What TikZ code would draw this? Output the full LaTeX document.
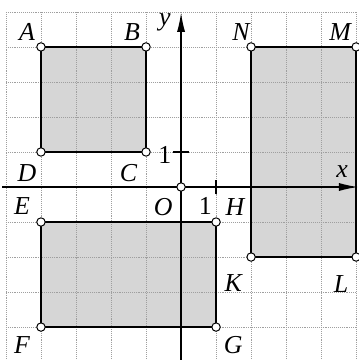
\documentclass[tikz,border=0pt]{standalone}
\usepackage{fontspec}
\setmainfont{Liberation Serif}
\usetikzlibrary{arrows.meta}
\begin{document}
\begin{tikzpicture}[
  gridline/.style={gray!75, densely dotted, line width=0.55pt},
  shade/.style={fill=gray!32},
  edge/.style={line width=1.5pt, black},
  axis/.style={line width=1.1pt, -{Latex[length=5.5mm,width=2.3mm]}},
  pt/.style={circle, draw=black, fill=white, line width=0.8pt, inner sep=0pt, minimum size=2.4mm},
  lab/.style={font=\fontsize{21}{25}\selectfont\itshape, inner sep=0pt},
  num/.style={font=\fontsize{21}{25}\selectfont, inner sep=0pt}
]
\useasboundingbox (-5.17,-4.94) rectangle (5.06,5.34);
% vertices
\coordinate (A) at (-4,4); \coordinate (B) at (-1,4);
\coordinate (C) at (-1,1); \coordinate (D) at (-4,1);
\coordinate (N) at (2,4); \coordinate (M) at (5,4);
\coordinate (L) at (5,-2); \coordinate (K) at (2,-2);
\coordinate (E) at (-4,-1); \coordinate (H) at (1,-1);
\coordinate (G) at (1,-4); \coordinate (F) at (-4,-4);
\coordinate (O) at (0,0);
% fills
\fill[shade] (A) rectangle (C);
\fill[shade] (N) rectangle (L);
\fill[shade] (E) rectangle (G);
% grid
\begin{scope}
\clip (-5.17,-4.94) rectangle (5.06,5.34);
\draw[gridline] (-5,-5) grid (5,5);
\end{scope}
% outlines
\draw[edge] (A) -- (B) -- (C) -- (D) -- cycle;
\draw[edge] (N) -- (M) -- (L) -- (K) -- cycle;
\draw[edge] (E) -- (H) -- (G) -- (F) -- cycle;
% axes
\coordinate (xs) at (-5.1,0); \coordinate (xe) at (5.06,0);
\coordinate (ys) at (0,-4.94); \coordinate (ye) at (0,4.98);
\draw[axis] (xs) -- (xe);
\draw[axis] (ys) -- (ye);
\draw[line width=1.1pt] (-0.23,1) -- (0.23,1);
\draw[line width=1.1pt] (1,-0.2) -- (1,0.2);
% points
\foreach \p in {A,B,C,D,N,M,L,K,E,H,G,F,O} \node[pt] at (\p) {};
% labels
\node[lab] (lA) at (-4.4,4.43) {A};
\node[lab] (lB) at (-1.4,4.43) {B};
\node[lab] (lC) at (-1.5,0.4) {C};
\node[lab] (lD) at (-4.4,0.4) {D};
\node[lab] (lN) at (1.71,4.43) {N};
\node[lab] (lM) at (4.54,4.43) {M};
\node[lab] (lL) at (4.57,-2.77) {L};
\node[lab] (lK) at (1.49,-2.74) {K};
\node[lab] (lE) at (-4.54,-0.54) {E};
\node[lab] (lH) at (1.54,-0.57) {H};
\node[lab] (lG) at (1.49,-4.5) {G};
\node[lab] (lF) at (-4.54,-4.5) {F};
\node[lab] (lO) at (-0.51,-0.57) {O};
\node[lab] (lx) at (4.6,0.43) {x};
\node[lab] (ly) at (-0.46,4.69) {y};
\node[num] (n1x) at (0.69,-0.54) {1};
\node[num] (n1y) at (-0.46,0.91) {1};
\end{tikzpicture}
\end{document}
